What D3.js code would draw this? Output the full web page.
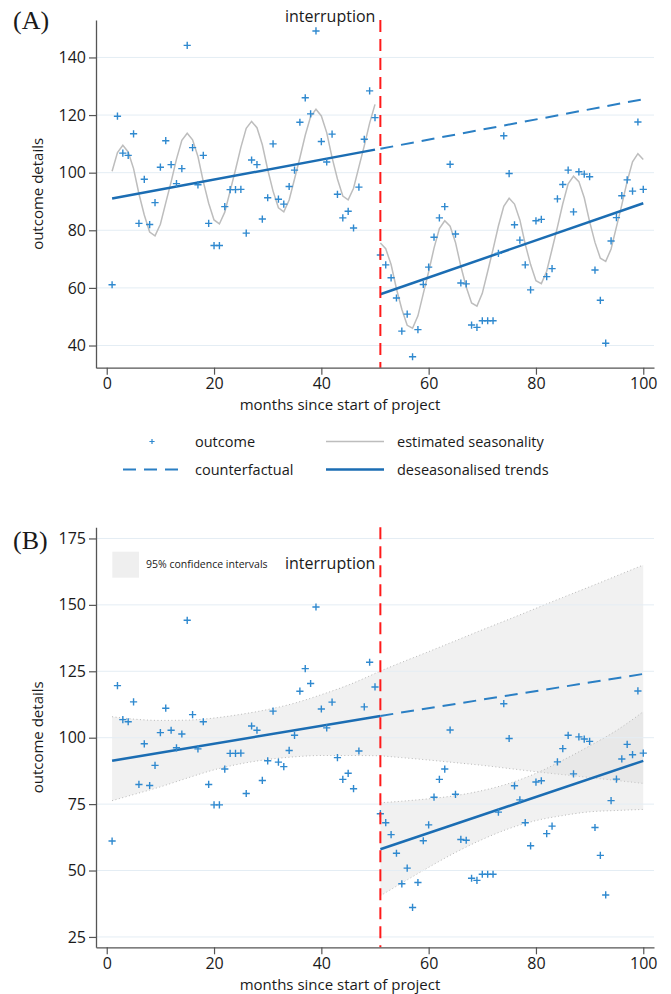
<!DOCTYPE html>
<html lang="en">
<head>
  <meta charset="UTF-8">
  <title>Interrupted time series</title>
  <script src="https://cdnjs.cloudflare.com/ajax/libs/d3/7.8.5/d3.min.js"></script>
  <style>
    body { margin: 0; background: #fff; }
    svg text { font-family: "Open Sans", "Noto Sans", sans-serif; fill: #1a1a1a; }
  </style>
</head>
<body>
  <svg id="chart" width="671" height="994"></svg>

  <script>
    // ---- data ----
    const months = d3.range(1, 101);
    const interruptionMonth = 51;

    const outcome = [
      61.1, 119.6, 106.8, 106.0, 113.5, 82.4, 97.7, 82.0, 89.6, 101.9,
      111.1, 102.8, 96.2, 101.4, 144.2, 108.7, 95.8, 106.0, 82.4, 74.7,
      74.7, 88.2, 94.1, 94.1, 94.2, 79.0, 104.4, 102.8, 83.9, 91.3,
      110.0, 90.8, 89.1, 95.2, 100.9, 117.5, 126.0, 120.4, 149.2, 110.8,
      103.7, 113.4, 92.5, 84.3, 86.6, 80.8, 95.0, 111.6, 128.4, 119.1,
      71.4, 68.0, 63.5, 56.5, 45.0, 50.9, 36.1, 45.5, 61.2, 67.2,
      77.6, 84.3, 88.2, 102.9, 78.7, 61.7, 61.4, 47.1, 46.3, 48.6,
      48.6, 48.6, 72.0, 112.8, 99.7, 81.9, 76.6, 68.0, 59.3, 83.3,
      83.8, 63.9, 66.7, 90.9, 95.9, 100.9, 86.4, 100.3, 99.5, 98.6,
      66.2, 55.7, 40.8, 76.3, 84.4, 92.0, 97.5, 93.6, 117.6, 94.2
    ];

    // estimated seasonality (panel A)
    const seasonality = [
      100.5, 107.0, 109.5, 107.2, 101.4, 92.7, 85.3, 79.4, 78.1, 82.1,
      89.5, 96.8, 104.7, 111.2, 113.7, 111.4, 105.6, 96.9, 89.4, 83.6,
      82.2, 86.3, 93.6, 101.0, 108.8, 115.4, 117.8, 115.6, 109.7, 101.1,
      93.6, 87.8, 86.4, 90.5, 97.8, 105.2, 113.0, 119.5, 122.0, 119.7,
      113.9, 105.2, 97.8, 91.9, 90.6, 94.6, 102.0, 109.3, 117.2, 123.7,
      75.6, 73.6, 68.1, 59.7, 52.6, 47.0, 46.0, 50.3, 58.0, 65.6,
      73.8, 80.6, 83.3, 81.4, 75.8, 67.5, 60.3, 54.8, 53.7, 58.1,
      65.7, 73.4, 81.5, 88.3, 91.1, 89.1, 83.6, 75.2, 68.1, 62.5,
      61.5, 65.8, 73.4, 81.1, 89.2, 96.1, 98.8, 96.9, 91.3, 83.0,
      75.8, 70.3, 69.2, 73.5, 81.2, 88.8, 97.0, 103.8, 106.6, 104.6
    ];

    // deseasonalised trends and counterfactual (start/end months and values)
    const trendPreMonthsA = [1, 50],   trendPreA = [91.0, 108.0];
    const trendPostMonthsA = [51, 100], trendPostA = [57.8, 89.4];
    const cfMonthsA = [51, 100],       cfA = [108.3, 125.5];

    const trendPreMonthsB = [1, 51],   trendPreB = [91.3, 108.2];
    const trendPostMonthsB = [51, 100], trendPostB = [58.0, 91.3];
    const cfMonthsB = [51, 100],       cfB = [108.2, 124.0];

    // 95% confidence intervals (panel B)
    const ciPreMonths = [1, 5, 10, 15, 20, 25, 30, 35, 40, 45, 51];
    const ciPreUpper = [107.9, 107.0, 106.5, 106.6, 107.4, 108.8, 110.6, 113.0, 116.2, 119.8, 125.1];
    const ciPreLower = [76.3, 78.6, 81.5, 84.8, 87.9, 90.2, 91.8, 92.8, 93.3, 93.3, 93.2];

    const ciPostMonths = [51, 55, 60, 65, 70, 75, 80, 85, 90, 95, 100];
    const ciCfUpper = [125.1, 128.4, 132.4, 136.5, 140.6, 144.6, 148.7, 152.8, 156.8, 160.9, 165.0];
    const ciCfLower = [93.2, 92.5, 91.6, 90.6, 89.6, 88.4, 87.2, 86.1, 85.0, 83.9, 82.8];
    const ciPostUpper = [75.5, 76.1, 77.0, 78.2, 80.1, 82.8, 86.6, 91.5, 96.9, 102.7, 109.8];
    const ciPostLower = [40.5, 45.3, 51.2, 56.8, 61.7, 65.8, 68.8, 70.7, 72.1, 72.6, 73.0];

    const xTicks = [0, 20, 40, 60, 80, 100];
    const yTicksA = [40, 60, 80, 100, 120, 140];
    const yTicksB = [25, 50, 75, 100, 125, 150, 175];

    const legendA = [
      { label: 'outcome', kind: 'point' },
      { label: 'estimated seasonality', kind: 'season' },
      { label: 'counterfactual', kind: 'cf' },
      { label: 'deseasonalised trends', kind: 'trend' }
    ];

    // ---- styles ----
    const pointColor = '#2f89cf';
    const trendColor = '#1b6db3';
    const cfColor = '#2a7fc4';
    const seasonColor = '#bdbdbd';
    const gridColor = '#e4edf4';
    const axisColor = '#555';

    const svg = d3.select('#chart');
    const x = d3.scaleLinear().domain([-2, 102]).range([96, 654]);

    function pairs(ms, vs) { return ms.map((m, i) => [m, vs[i]]); }

    function drawPanel(y, ticks, top, bottom, letter, letterY, titleY, labelY, withBands, trends) {
      const g = svg.append('g');

      if (withBands) {
        const area = d3.area().x(d => x(d[0])).y0(d => y(d[1])).y1(d => y(d[2])).curve(d3.curveMonotoneX);
        const edge = d3.line().x(d => x(d[0])).y(d => y(d[1])).curve(d3.curveMonotoneX);
        const bands = [
          [ciPreMonths, ciPreLower, ciPreUpper],
          [ciPostMonths, ciCfLower, ciCfUpper],
          [ciPostMonths, ciPostLower, ciPostUpper]
        ];
        bands.forEach(b => {
          const rows = b[0].map((m, i) => [m, b[1][i], b[2][i]]);
          g.append('path').datum(rows).attr('d', area)
            .attr('fill', '#d6d6d6').attr('fill-opacity', 0.35);
          [1, 2].forEach(k => {
            g.append('path').datum(b[0].map((m, i) => [m, b[k][i]])).attr('d', edge)
              .attr('fill', 'none').attr('stroke', '#b8b8b8')
              .attr('stroke-width', 1).attr('stroke-dasharray', '1,2.5');
          });
        });
      }

      // gridlines
      g.selectAll('.grid').data(ticks).join('line')
        .attr('x1', x.range()[0]).attr('x2', x.range()[1])
        .attr('y1', d => y(d)).attr('y2', d => y(d))
        .attr('stroke', gridColor).attr('stroke-width', 1);

      const line = d3.line().x(d => x(d[0])).y(d => y(d[1]));

      if (!withBands) {
        const pre = months.filter(m => m < interruptionMonth).map(m => [m, seasonality[m - 1]]);
        const post = months.filter(m => m >= interruptionMonth).map(m => [m, seasonality[m - 1]]);
        [pre, post].forEach(seg => {
          g.append('path').datum(seg).attr('d', line)
            .attr('fill', 'none').attr('stroke', seasonColor).attr('stroke-width', 1.5);
        });
      }

      // counterfactual
      g.append('path').datum(pairs(trends.cfM, trends.cf)).attr('d', line)
        .attr('fill', 'none').attr('stroke', cfColor).attr('stroke-width', 2)
        .attr('stroke-dasharray', '13,8');
      // trends
      [[trends.preM, trends.pre], [trends.postM, trends.post]].forEach(t => {
        g.append('path').datum(pairs(t[0], t[1])).attr('d', line)
          .attr('fill', 'none').attr('stroke', trendColor).attr('stroke-width', 2.5);
      });

      // outcome points
      g.selectAll('.pt').data(months).join('path')
        .attr('transform', m => `translate(${x(m)},${y(outcome[m - 1])})`)
        .attr('d', 'M-3.6,0H3.6M0,-3.6V3.6')
        .attr('stroke', pointColor).attr('stroke-width', 1.4).attr('fill', 'none');

      // interruption line
      g.append('line')
        .attr('x1', x(interruptionMonth)).attr('x2', x(interruptionMonth))
        .attr('y1', top).attr('y2', bottom)
        .attr('stroke', '#ff1a1a').attr('stroke-width', 2).attr('stroke-dasharray', '12,7');
      g.append('text').attr('x', x(interruptionMonth) - 5).attr('y', labelY)
        .attr('text-anchor', 'end').style('font-size', '16px').text('interruption');

      // axes
      const yAxis = g.append('g').attr('transform', `translate(${x.range()[0]},0)`)
        .call(d3.axisLeft(y).tickValues(ticks).tickSize(7).tickSizeOuter(0).tickPadding(3));
      const xAxis = g.append('g').attr('transform', `translate(0,${bottom})`)
        .call(d3.axisBottom(x).tickValues(xTicks).tickSize(7).tickSizeOuter(0).tickPadding(3));
      [yAxis, xAxis].forEach(a => {
        a.select('.domain').attr('stroke', axisColor).attr('stroke-width', 1.3);
        a.selectAll('.tick line').attr('stroke', axisColor).attr('stroke-width', 1.2);
        a.selectAll('.tick text').style('font-size', '16px').attr('fill', '#1a1a1a')
          .style('font-family', '"Open Sans", sans-serif');
      });

      g.append('text').attr('transform', `translate(43,${(top + bottom) / 2}) rotate(-90)`)
        .attr('text-anchor', 'middle').style('font-size', '15px').text('outcome details');
      g.append('text').attr('x', 340).attr('y', titleY)
        .attr('text-anchor', 'middle').style('font-size', '15px').text('months since start of project');

      g.append('text').attr('x', 13).attr('y', letterY)
        .style('font-family', '"Liberation Serif", "DejaVu Serif", serif').style('font-size', '26px')
        .text(letter);
      return g;
    }

    const yA = d3.scaleLinear().domain([32.3, 153]).range([367.7, 20]);
    drawPanel(yA, yTicksA, 20, 367.7, '(A)', 29, 410, 21.5, false, {
      preM: trendPreMonthsA, pre: trendPreA, postM: trendPostMonthsA, post: trendPostA, cfM: cfMonthsA, cf: cfA
    });

    const yB = d3.scaleLinear().domain([21.1, 179.2]).range([947.3, 527.3]);
    const gB = drawPanel(yB, yTicksB, 527.3, 947.3, '(B)', 549, 990, 569, true, {
      preM: trendPreMonthsB, pre: trendPreB, postM: trendPostMonthsB, post: trendPostB, cfM: cfMonthsB, cf: cfB
    });

    // CI legend in panel B
    gB.append('rect').attr('x', 112.3).attr('y', 551.7).attr('width', 26.7).attr('height', 26)
      .attr('fill', '#efefef');
    gB.append('text').attr('x', 146).attr('y', 568).style('font-size', '10.5px')
      .text('95% confidence intervals');

    // legend under panel A
    const legPos = [[152, 447], [355, 447], [152, 475], [355, 475]];
    const leg = svg.append('g');
    legendA.forEach((d, i) => {
      const [cx, by] = legPos[i];
      const cy = by - 5.5;
      if (d.kind === 'point') {
        leg.append('path').attr('transform', `translate(${cx},${cy})`)
          .attr('d', 'M-2.6,0H2.6M0,-2.6V2.6').attr('stroke', pointColor).attr('stroke-width', 1.2);
      } else {
        leg.append('line').attr('x1', cx - 29).attr('x2', cx + 29).attr('y1', cy).attr('y2', cy)
          .attr('stroke', d.kind === 'season' ? seasonColor : d.kind === 'cf' ? cfColor : trendColor)
          .attr('stroke-width', d.kind === 'season' ? 1.5 : d.kind === 'trend' ? 2.5 : 2)
          .attr('stroke-dasharray', d.kind === 'cf' ? '13,8' : null);
      }
      leg.append('text').attr('x', i % 2 === 0 ? 195 : 397).attr('y', by)
        .style('font-size', '14.5px').text(d.label);
    });
  </script>
</body>
</html>
